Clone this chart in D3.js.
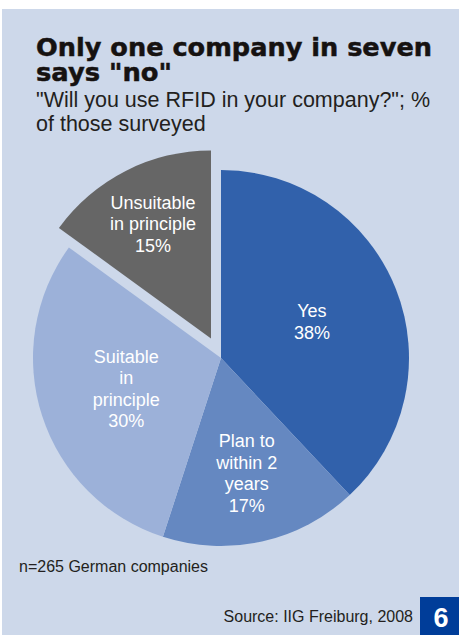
<!DOCTYPE html>
<html>
<head>
<meta charset="utf-8">
<script src="https://cdn.jsdelivr.net/npm/d3@7"></script>
<style>
  body { margin: 0; background: #fff; }
  svg { display: block; }
</style>
</head>
<body>
<div class="container"></div>
<script>
const categories = ['Yes', 'Plan to within 2 years', 'Suitable in principle', 'Unsuitable in principle'];
const shares = [38, 17, 30, 15];
const labelLines = [
  ['Yes', '38%'],
  ['Plan to', 'within 2', 'years', '17%'],
  ['Suitable', 'in', 'principle', '30%'],
  ['Unsuitable', 'in principle', '15%']
];
const colors = ['#3161ab', '#6588c1', '#9cb1d9', '#666666'];
const exploded = ['Unsuitable in principle'];

const width = 459, height = 635;
const cx = 221, cy = 358, radius = 188;
const font = 'Liberation Sans, Arial, sans-serif';

const svg = d3.select('.container')
  .append('svg')
  .attr('width', width)
  .attr('height', height);

svg.append('rect')
  .attr('x', 2).attr('y', 9)
  .attr('width', width - 2).attr('height', height - 9)
  .attr('fill', '#cdd8ea');

// title + subtitle
const title = svg.append('text')
  .attr('font-family', 'DejaVu Sans, sans-serif')
  .attr('font-weight', 'bold')
  .attr('font-size', '25.5px')
  .attr('fill', '#161211')
  .attr('stroke', '#161211')
  .attr('stroke-width', 0.5);
title.append('tspan').attr('x', 36).attr('y', 56)
  .attr('textLength', 396).attr('lengthAdjust', 'spacingAndGlyphs')
  .text('Only one company in seven');
title.append('tspan').attr('x', 36).attr('y', 81)
  .attr('textLength', 136).attr('lengthAdjust', 'spacingAndGlyphs')
  .text('says "no"');

const sub = svg.append('text')
  .attr('font-family', font)
  .attr('font-size', '21.5px')
  .attr('fill', '#231f20');
sub.append('tspan').attr('x', 36).attr('y', 107).text('"Will you use RFID in your company?"; %');
sub.append('tspan').attr('x', 36).attr('y', 131).text('of those surveyed');

// pie
const pie = d3.pie().sort(null).value(d => d.value);
const data = pie(categories.map((c, i) => ({ name: c, value: shares[i], lines: labelLines[i], color: colors[i] })));
const arc = d3.arc().innerRadius(0).outerRadius(radius);

const g = svg.append('g').attr('transform', 'translate(' + cx + ',' + cy + ')');

const slices = g.selectAll('.slice')
  .data(data)
  .enter()
  .append('g')
  .attr('class', 'slice')
  .attr('transform', function(d) {
    if (exploded.indexOf(d.data.name) < 0) return null;
    const mid = (d.startAngle + d.endAngle) / 2;
    const off = 22;
    return 'translate(' + (Math.sin(mid) * off) + ',' + (-Math.cos(mid) * off) + ')';
  });

slices.append('path')
  .attr('d', arc)
  .attr('fill', d => d.data.color);

// label positions (fraction of radius along mid angle)
const labelRadius = [0.52, 0.63, 0.53, 0.68];
slices.each(function(d, i) {
  const mid = (d.startAngle + d.endAngle) / 2;
  const r = radius * labelRadius[i];
  const lx = Math.sin(mid) * r, ly = -Math.cos(mid) * r;
  const lh = 21.5;
  const n = d.data.lines.length;
  const t = d3.select(this).append('text')
    .attr('text-anchor', 'middle')
    .attr('font-family', font)
    .attr('font-size', '18px')
    .attr('fill', '#fff');
  d.data.lines.forEach(function(line, j) {
    t.append('tspan')
      .attr('x', lx)
      .attr('y', ly + (j - (n - 1) / 2) * lh + 6)
      .text(line);
  });
});

// footer
svg.append('text')
  .attr('x', 19).attr('y', 572)
  .attr('font-family', font)
  .attr('font-size', '16px')
  .attr('fill', '#231f20')
  .text('n=265 German companies');

svg.append('text')
  .attr('x', 413).attr('y', 622)
  .attr('text-anchor', 'end')
  .attr('font-family', font)
  .attr('font-size', '16px')
  .attr('fill', '#231f20')
  .text('Source: IIG Freiburg, 2008');

svg.append('rect')
  .attr('x', 420).attr('y', 597)
  .attr('width', 39).attr('height', 38)
  .attr('fill', '#003d99');

svg.append('text')
  .attr('x', 441).attr('y', 627)
  .attr('text-anchor', 'middle')
  .attr('font-family', font)
  .attr('font-weight', 'bold')
  .attr('font-size', '27px')
  .attr('fill', '#fff')
  .text('6');
</script>
</body>
</html>
